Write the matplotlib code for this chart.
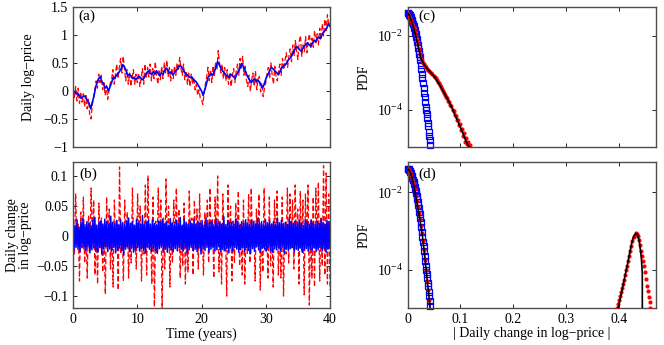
import numpy as np
import matplotlib
matplotlib.use('Agg')
import matplotlib.pyplot as plt
from matplotlib.ticker import NullLocator

plt.rcParams['font.family'] = ['Liberation Serif', 'DejaVu Serif']
plt.rcParams['mathtext.fontset'] = 'stix'
plt.rcParams['font.size'] = 10

# ---- (a) daily log-price, values every 0.25 y (blue) and 0.2 y (red)
blue_logp = [-0.02, -0.01, -0.05, -0.04, -0.09, -0.13, -0.11, -0.09, -0.12, -0.17,
             -0.22, -0.32, -0.20, -0.10, 0.06, 0.15, 0.22, 0.25, 0.16, 0.12,
             0.05, 0.08, 0.00, 0.07, 0.15, 0.24, 0.22, 0.28, 0.31, 0.35,
             0.40, 0.47, 0.43, 0.36, 0.27, 0.30, 0.27, 0.22, 0.24, 0.21,
             0.23, 0.26, 0.24, 0.20, 0.22, 0.28, 0.33, 0.36, 0.31, 0.30,
             0.34, 0.30, 0.36, 0.31, 0.27, 0.32, 0.30, 0.36, 0.41, 0.38,
             0.32, 0.34, 0.29, 0.32, 0.36, 0.39, 0.44, 0.45, 0.41, 0.36,
             0.30, 0.29, 0.26, 0.24, 0.25, 0.20, 0.18, 0.15, 0.10, 0.05,
             0.00, -0.08, 0.02, 0.12, 0.24, 0.27, 0.31, 0.28, 0.35, 0.42,
             0.52, 0.47, 0.41, 0.36, 0.33, 0.29, 0.27, 0.24, 0.30, 0.28,
             0.25, 0.23, 0.30, 0.35, 0.41, 0.49, 0.44, 0.38, 0.30, 0.24,
             0.19, 0.15, 0.19, 0.22, 0.17, 0.20, 0.16, 0.11, 0.05, 0.12,
             0.21, 0.28, 0.33, 0.40, 0.41, 0.38, 0.35, 0.32, 0.29, 0.36,
             0.41, 0.44, 0.46, 0.50, 0.55, 0.58, 0.62, 0.68, 0.73, 0.80,
             0.77, 0.74, 0.71, 0.76, 0.80, 0.83, 0.86, 0.82, 0.80, 0.85,
             0.90, 0.88, 0.94, 0.96, 0.93, 1.00, 1.05, 1.08, 1.12, 1.20,
             1.15]
red_logp = [0.02, -0.12, 0.08, -0.18, 0.05, -0.22, -0.02, -0.20, -0.05, -0.28,
            -0.08, -0.32, -0.15, -0.42, -0.50, -0.25, -0.10, 0.02, 0.18, 0.05,
            0.30, 0.15, 0.28, 0.02, 0.15, -0.08, 0.10, -0.15, 0.02, 0.14,
            0.20, 0.38, 0.12, 0.30, 0.48, 0.22, 0.42, 0.58, 0.32, 0.62,
            0.40, 0.18, 0.38, 0.12, 0.32, 0.08, 0.25, 0.38, 0.12, 0.30,
            0.15, 0.32, 0.08, 0.22, 0.40, 0.12, 0.48, 0.22, 0.42, 0.25,
            0.48, 0.18, 0.40, 0.22, 0.52, 0.28, 0.12, 0.38, 0.20, 0.44,
            0.22, 0.50, 0.32, 0.55, 0.25, 0.42, 0.18, 0.40, 0.22, 0.45,
            0.28, 0.50, 0.36, 0.60, 0.40, 0.28, 0.48, 0.20, 0.36, 0.12,
            0.32, 0.08, 0.30, 0.12, 0.24, 0.02, 0.12, -0.08, 0.02, -0.12,
            -0.16, -0.24, -0.05, 0.12, 0.25, 0.42, 0.18, 0.38, 0.15, 0.45,
            0.28, 0.52, 0.38, 0.72, 0.50, 0.32, 0.48, 0.22, 0.42, 0.18,
            0.38, 0.12, 0.32, 0.08, 0.28, 0.40, 0.15, 0.35, 0.48, 0.28,
            0.58, 0.38, 0.62, 0.28, 0.44, 0.18, 0.08, 0.28, 0.00, 0.20,
            0.32, 0.08, 0.36, 0.02, 0.22, 0.26, -0.02, 0.14, -0.10, 0.05,
            0.15, 0.32, 0.42, 0.22, 0.50, 0.28, 0.12, 0.44, 0.25, 0.18,
            0.36, 0.48, 0.28, 0.58, 0.38, 0.55, 0.68, 0.42, 0.62, 0.75,
            0.52, 0.82, 0.62, 0.90, 0.72, 0.56, 0.88, 0.99, 0.62, 0.82,
            0.70, 0.97, 0.68, 0.90, 1.02, 0.75, 0.94, 0.78, 1.08, 0.86,
            1.02, 0.82, 1.12, 0.92, 1.20, 0.98, 1.28, 1.08, 1.36, 1.18,
            1.22]

# ---- (b) daily changes
blue_chg = [0.021, -0.024, 0.018, -0.019, 0.027, -0.022, 0.015, -0.026, 0.023, -0.017, 0.029, -0.021, 0.019, -0.025, 0.024, -0.018, 0.022, -0.028, 0.017, -0.023,
            0.026, -0.020, 0.031, -0.024, 0.018, -0.027, 0.022, -0.019, 0.025, -0.030, 0.020, -0.022, 0.028, -0.018, 0.024, -0.026, 0.019, -0.021, 0.033, -0.025,
            0.023, -0.019, 0.020, -0.028, 0.026, -0.023, 0.018, -0.020, 0.027, -0.024, 0.022, -0.031, 0.019, -0.022, 0.025, -0.018, 0.030, -0.026, 0.021, -0.020,
            0.024, -0.027, 0.018, -0.023, 0.028, -0.019, 0.022, -0.025, 0.020, -0.021, 0.034, -0.024, 0.019, -0.028, 0.023, -0.018, 0.026, -0.022, 0.020, -0.026,
            0.027, -0.020, 0.021, -0.024, 0.019, -0.029, 0.025, -0.021, 0.023, -0.018, 0.028, -0.025, 0.020, -0.022, 0.024, -0.027, 0.018, -0.020, 0.029, -0.023,
            0.022, -0.026, 0.019, -0.021, 0.026, -0.024, 0.021, -0.019, 0.031, -0.022, 0.018, -0.025, 0.027, -0.020, 0.023, -0.028, 0.020, -0.023, 0.025, -0.019,
            0.020, -0.024, 0.028, -0.022, 0.019, -0.026, 0.024, -0.020, 0.022, -0.030, 0.026, -0.021, 0.018, -0.024, 0.030, -0.019, 0.021, -0.027, 0.023, -0.022,
            0.025, -0.020, 0.019, -0.025, 0.027, -0.023, 0.022, -0.018, 0.024, -0.026, 0.020, -0.022, 0.032, -0.024, 0.019, -0.021, 0.026, -0.028, 0.022, -0.020,
            0.023, -0.025, 0.020, -0.019, 0.028, -0.022, 0.025, -0.027, 0.018, -0.023, 0.024, -0.020, 0.021, -0.026, 0.027, -0.019, 0.022, -0.024, 0.019, -0.029,
            0.026, -0.021, 0.023, -0.025, 0.020, -0.018, 0.029, -0.023, 0.021, -0.026, 0.024, -0.020, 0.018, -0.022, 0.027, -0.025, 0.022, -0.019, 0.025, -0.024,
            0.020, -0.027, 0.024, -0.021, 0.019, -0.023, 0.030, -0.020, 0.022, -0.025, 0.026, -0.018, 0.021, -0.028, 0.023, -0.022, 0.019, -0.024, 0.028, -0.021,
            0.024, -0.019, 0.021, -0.026, 0.025, -0.022, 0.020, -0.024, 0.027, -0.020, 0.022, -0.027, 0.018, -0.023, 0.026, -0.021, 0.024, -0.025, 0.020, -0.022,
            0.027, -0.024, 0.022, -0.020, 0.019, -0.026, 0.025, -0.023, 0.021, -0.019, 0.028, -0.025, 0.023, -0.021, 0.020, -0.027, 0.026, -0.022, 0.024, -0.020]
red_chg = [0.045, -0.030, 0.070, -0.015, 0.020, -0.075, 0.040, -0.020, 0.065, -0.045, 0.015, -0.070, 0.035, -0.025, 0.080, -0.010, 0.060, -0.065, 0.020, -0.080,
           0.055, -0.020, 0.030, -0.060, 0.010, -0.097, 0.065, -0.015, 0.045, -0.055, 0.020, -0.085, 0.060, -0.010, 0.025, -0.090, 0.115, -0.030, 0.015, -0.075,
           0.060, -0.020, 0.040, -0.070, 0.015, -0.045, 0.080, -0.025, 0.010, -0.055, 0.070, -0.015, 0.050, -0.075, 0.020, -0.030, 0.085, -0.065, 0.100, -0.020,
           0.015, -0.080, 0.065, -0.118, 0.025, -0.030, 0.080, -0.015, 0.060, -0.120, 0.030, -0.055, 0.095, -0.020, 0.050, -0.085, 0.020, -0.045, 0.060, -0.015,
           0.080, -0.025, 0.045, -0.070, 0.015, -0.050, 0.055, -0.080, 0.020, -0.060, 0.075, -0.015, 0.030, -0.065, 0.060, -0.020, 0.045, -0.055, 0.070, -0.025,
           0.020, -0.065, 0.040, -0.015, 0.060, -0.045, 0.080, -0.020, 0.030, -0.070, 0.065, -0.015, 0.100, -0.060, 0.020, -0.080, 0.070, -0.025, 0.015, -0.100,
           0.085, -0.020, 0.050, -0.075, 0.025, -0.045, 0.055, -0.015, 0.075, -0.050, 0.020, -0.065, 0.060, -0.080, 0.015, -0.030, 0.070, -0.045, 0.080, -0.020,
           0.025, -0.075, 0.045, -0.015, 0.070, -0.090, 0.020, -0.060, 0.080, -0.025, 0.015, -0.070, 0.065, -0.050, 0.020, -0.085, 0.060, -0.015, 0.075, -0.065,
           0.020, -0.070, 0.065, -0.100, 0.015, -0.030, 0.080, -0.045, 0.070, -0.020, 0.060, -0.055, 0.085, -0.015, 0.045, -0.080, 0.075, -0.025, 0.060, -0.098,
           0.070, -0.020, 0.085, -0.115, 0.025, -0.070, 0.065, -0.085, 0.080, -0.020, 0.090, -0.075, 0.030, -0.050, 0.117, -0.065, 0.105, -0.080, 0.070, -0.090]

# ---- (c)/(d) PDFs of |daily change|
blue_x = [0.000, 0.001, 0.002, 0.003, 0.004, 0.005, 0.006, 0.007, 0.008, 0.009,
          0.010, 0.011, 0.012, 0.013, 0.014, 0.015, 0.016, 0.017, 0.018, 0.019,
          0.020, 0.021, 0.022, 0.023, 0.024, 0.025, 0.026, 0.027, 0.028, 0.029,
          0.030, 0.031, 0.032, 0.033, 0.034, 0.035, 0.036, 0.037, 0.038, 0.039,
          0.040, 0.041, 0.042, 0.043]
blue_pdf = [4.07e-2, 4.07e-2, 3.98e-2, 3.80e-2, 3.63e-2, 3.39e-2, 3.16e-2, 2.88e-2, 2.63e-2, 2.34e-2,
            2.09e-2, 1.82e-2, 1.62e-2, 1.41e-2, 1.23e-2, 1.10e-2, 9.5e-3, 8.1e-3, 6.8e-3, 5.6e-3,
            4.7e-3, 3.9e-3, 3.2e-3, 2.7e-3, 2.2e-3, 1.66e-3, 1.26e-3, 9.3e-4, 7.1e-4, 5.2e-4,
            4.0e-4, 2.95e-4, 2.24e-4, 1.66e-4, 1.23e-4, 1.0e-4, 7.6e-5, 6.0e-5, 4.5e-5, 3.8e-5,
            2.6e-5, 2.0e-5, 1.55e-5, 1.12e-5]

red_c_x = [0.001, 0.003, 0.005, 0.007, 0.009, 0.011, 0.013, 0.015, 0.017, 0.019,
           0.021, 0.023, 0.025, 0.027, 0.029, 0.031, 0.033, 0.035, 0.037, 0.039,
           0.041, 0.043, 0.045, 0.047, 0.049, 0.051, 0.053, 0.055, 0.057, 0.059,
           0.061, 0.063, 0.065, 0.067, 0.069, 0.071, 0.073, 0.075, 0.077, 0.079,
           0.081, 0.083, 0.085, 0.087, 0.089, 0.091, 0.093, 0.095, 0.097, 0.099,
           0.101, 0.103, 0.105, 0.107, 0.109, 0.111, 0.113, 0.115, 0.117, 0.119]
red_c_pdf = [3.9e-2, 3.5e-2, 3.0e-2, 2.5e-2, 2.1e-2, 1.7e-2, 1.35e-2, 1.05e-2, 7.9e-3, 6.0e-3,
             4.5e-3, 3.3e-3, 2.5e-3, 2.1e-3, 1.86e-3, 1.7e-3, 1.5e-3, 1.41e-3, 1.32e-3, 1.2e-3,
             1.15e-3, 1.07e-3, 1.0e-3, 9.1e-4, 8.5e-4, 7.8e-4, 7.1e-4, 6.3e-4, 5.8e-4, 5.2e-4,
             4.6e-4, 4.2e-4, 3.6e-4, 3.3e-4, 2.8e-4, 2.6e-4, 2.2e-4, 2.1e-4, 1.74e-4, 1.66e-4,
             1.35e-4, 1.26e-4, 1.0e-4, 9.5e-5, 7.4e-5, 6.9e-5, 5.5e-5, 5.2e-5, 4.0e-5, 4.2e-5,
             2.8e-5, 3.0e-5, 2.0e-5, 2.4e-5, 1.4e-5, 1.8e-5, 1.2e-5, 1.4e-5, 1.0e-5, 1.1e-5]
fit_c_x = [0.0, 0.003, 0.005, 0.01, 0.015, 0.02, 0.025, 0.03, 0.035, 0.04,
           0.05, 0.06, 0.07, 0.08, 0.09, 0.10, 0.11, 0.116]
fit_c_pdf = [4.0e-2, 3.7e-2, 3.0e-2, 1.9e-2, 1.05e-2, 5.1e-3, 2.5e-3, 1.78e-3, 1.41e-3, 1.17e-3,
             8.1e-4, 4.9e-4, 2.75e-4, 1.51e-4, 7.1e-5, 3.4e-5, 1.5e-5, 1.0e-5]

red_d_x = [0.001, 0.003, 0.005, 0.007, 0.009, 0.011, 0.013, 0.015, 0.017, 0.019,
           0.021, 0.023, 0.025, 0.027, 0.029, 0.031, 0.033, 0.035, 0.037, 0.039, 0.041,
           0.396, 0.398, 0.400, 0.402, 0.404, 0.406, 0.408, 0.410, 0.412, 0.414,
           0.416, 0.418, 0.420, 0.422, 0.424, 0.426, 0.428, 0.430, 0.432, 0.434,
           0.436, 0.438, 0.440, 0.442, 0.444, 0.446, 0.448, 0.450, 0.452, 0.454,
           0.456, 0.458, 0.459, 0.460]
red_d_pdf = [3.98e-2, 3.8e-2, 3.31e-2, 2.82e-2, 2.29e-2, 1.74e-2, 1.2e-2, 8.3e-3, 6.0e-3, 4.2e-3,
             2.95e-3, 2.0e-3, 1.38e-3, 9.1e-4, 5.5e-4, 3.3e-4, 1.82e-4, 1.0e-4, 5.0e-5, 3.0e-5, 1.66e-5,
             1.0e-5, 1.26e-5, 1.6e-5, 2.1e-5, 2.6e-5, 3.3e-5, 4.2e-5, 5.5e-5, 7.2e-5, 9.5e-5,
             1.26e-4, 1.66e-4, 2.24e-4, 3.0e-4, 4.2e-4, 5.6e-4, 6.9e-4, 7.9e-4, 8.7e-4, 8.5e-4,
             7.6e-4, 6.0e-4, 4.4e-4, 3.0e-4, 2.2e-4, 1.66e-4, 1.2e-4, 8.7e-5, 5.6e-5, 3.8e-5,
             2.8e-5, 1.9e-5, 1.4e-5, 1.0e-5]
fit_d1_x = [0.0, 0.004, 0.008, 0.012, 0.016, 0.020, 0.024, 0.028, 0.032, 0.036, 0.040, 0.0425]
fit_d1_pdf = [4.07e-2, 3.55e-2, 2.51e-2, 1.41e-2, 7.1e-3, 3.5e-3, 1.66e-3, 7.2e-4, 2.5e-4, 7.1e-5, 2.2e-5, 1.0e-5]
fit_d2_x = [0.399, 0.4086, 0.418, 0.4245, 0.428, 0.4326, 0.436, 0.439, 0.4427, 0.4446, 0.4448]
fit_d2_pdf = [1.0e-5, 4.2e-5, 1.74e-4, 4.8e-4, 7.2e-4, 8.7e-4, 7.8e-4, 5.2e-4, 2.1e-4, 7.8e-5, 1.0e-6]

RED = '#ff0000'
BLUE = '#0000ff'
SPINE = '0.3'

fig = plt.figure(figsize=(6.64, 3.45), dpi=100)
axa = fig.add_axes([0.110, 0.574, 0.387, 0.406])
axb = fig.add_axes([0.110, 0.107, 0.387, 0.423])
axc = fig.add_axes([0.614, 0.574, 0.3735, 0.406])
axd = fig.add_axes([0.614, 0.107, 0.3735, 0.423])

for ax in (axa, axb, axc, axd):
    ax.tick_params(direction='in', top=True, right=True, length=3, width=0.6,
                   colors='k', labelsize=10)
    for s in ax.spines.values():
        s.set_color(SPINE)
        s.set_linewidth(1.0)

# (a)
t_red = np.linspace(0, 40, len(red_logp))
t_blue = np.linspace(0, 40, len(blue_logp))
axa.plot(t_red, red_logp, color=RED, lw=0.9, ls=(0, (4, 2)))
axa.plot(t_blue, blue_logp, color=BLUE, lw=1.2)
axa.set_xlim(0, 40)
axa.set_ylim(-1, 1.5)
axa.set_xticks([0, 10, 20, 30, 40])
axa.set_xticklabels([])
axa.set_yticks([-1, -0.5, 0, 0.5, 1, 1.5])
axa.set_yticklabels(['\u22121', '\u22120.5', '0', '0.5', '1', '1.5'])
axa.set_ylabel('Daily log\u2212price', fontsize=10, labelpad=6)
axa.text(0.02, 0.93, '(a)', transform=axa.transAxes, fontsize=11, va='center')

# (b)
t_rc = np.linspace(0, 40, len(red_chg))
t_bc = np.linspace(0, 40, len(blue_chg))
axb.plot(t_rc, red_chg, color=RED, lw=0.9, ls=(0, (4, 2)))
axb.plot(t_bc, blue_chg, color=BLUE, lw=1.1)
axb.set_xlim(0, 40)
axb.set_ylim(-0.12, 0.123)
axb.set_xticks([0, 10, 20, 30, 40])
axb.set_yticks([-0.1, -0.05, 0, 0.05, 0.1])
axb.set_yticklabels(['\u22120.1', '\u22120.05', '0', '0.05', '0.1'])
axb.set_xlabel('Time (years)', fontsize=10, labelpad=1)
axb.set_ylabel('Daily change\nin log\u2212price', fontsize=10, labelpad=3, linespacing=1.0)
axb.text(0.025, 0.92, '(b)', transform=axb.transAxes, fontsize=11, va='center')

# (c) and (d)
for ax in (axc, axd):
    ax.set_yscale('log')
    ax.set_xlim(0, 0.47)
    ax.set_ylim(1e-5, 0.061)
    ax.set_yticks([1e-4, 1e-2])
    ax.yaxis.set_minor_locator(NullLocator())
    ax.set_xticks([0, 0.1, 0.2, 0.3, 0.4])
    ax.set_ylabel('PDF', fontsize=10, labelpad=4)
    ax.plot(blue_x, blue_pdf, ls='none', marker='s', ms=4, mfc='none',
            mec=BLUE, mew=0.9, clip_on=False, zorder=2)

axc.plot(red_c_x, red_c_pdf, ls='none', marker='o', ms=3, color=RED, mew=0, zorder=3)
axc.plot(fit_c_x, fit_c_pdf, color='k', lw=1.2, zorder=4)
axc.set_xticklabels([])
axc.text(0.045, 0.935, '(c)', transform=axc.transAxes, fontsize=11, va='center')

axd.plot(red_d_x, red_d_pdf, ls='none', marker='o', ms=3, color=RED, mew=0, zorder=3)
axd.plot(fit_d1_x, fit_d1_pdf, color='k', lw=1.2, zorder=4)
axd.plot(fit_d2_x, fit_d2_pdf, color='k', lw=1.2, zorder=4)
axd.set_xticklabels(['0', '0.1', '0.2', '0.3', '0.4'])
axd.set_xlabel('| Daily change in log\u2212price |', fontsize=10, labelpad=1)
axd.text(0.045, 0.92, '(d)', transform=axd.transAxes, fontsize=11, va='center')

fig.savefig('out.png', dpi=100)
